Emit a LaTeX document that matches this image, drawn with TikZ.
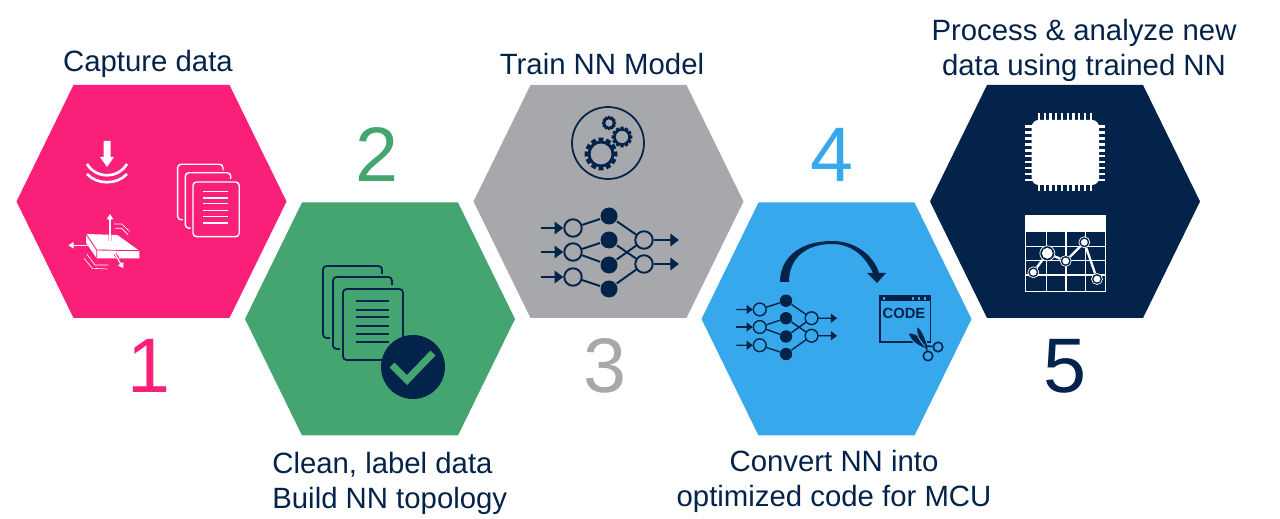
\documentclass[tikz,border=0pt]{standalone}
\usepackage{fontspec}
\setmainfont{Liberation Sans}
\usetikzlibrary{arrows.meta}
\definecolor{hexpink}{HTML}{FA1F79}
\definecolor{hexgreen}{HTML}{45A570}
\definecolor{hexgray}{HTML}{A7A8AC}
\definecolor{hexblue}{HTML}{38A8EC}
\definecolor{navy}{HTML}{03234B}
\tikzset{
	hexa/.pic={
		\fill (-135,0) -- (-78,-116.5) -- (78,-116.5) -- (135,0) -- (78,116.5) -- (-78,116.5) -- cycle;
	},
	caption/.style={text=navy,font=\fontsize{16.7}{20}\selectfont,align=center,inner sep=0pt},
	numeral/.style={font=\fontsize{44}{44}\selectfont,inner sep=0pt},
	netopen/.style={circle,draw,transform shape,minimum size=.35cm,inner sep=0pt},
	netfull/.style={circle,fill,transform shape,minimum size=.34cm,inner sep=0pt},
	chartpt/.style={circle,draw=white,fill=navy,line width=.4pt,inner sep=0pt},
	nnet/.pic={
		\foreach \n/\y in {1/-24,2/0,3/25}{
			\node[netopen] (o\n) at (-36,\y) {};
			\draw[-{Triangle[length=0pt 4.5,width=0pt 6.5]}] (-68,\y) -- (o\n);
		}
		\foreach \n/\y in {1/-36,2/-12,3/13,4/37}
			\node[netfull] (f\n) at (0,\y) {};
		\foreach \n/\y in {1/-12,2/12}{
			\node[netopen] (u\n) at (35,\y) {};
			\draw[-{Triangle[length=0pt 4.5,width=0pt 6.5]}] (u\n) -- (70,\y);
		}
		\foreach \a/\b in {o1/f1,o2/f2,o2/f3,o3/f4,f1/u1,f2/u2,f3/u1,f4/u2}
			\draw (\a) -- (\b);
	},
	docstack/.pic={
		\draw[rounded corners=2pt] (0,0) rectangle (60,71);
		\draw[rounded corners=2pt] (-3,60) -- (-10,60) -- (-10,-12) -- (49,-12) -- (49,-4);
		\draw[rounded corners=2pt] (-13,49) -- (-20,49) -- (-20,-23) -- (39,-23) -- (39,-15);
		\foreach \y in {12,21,28,37,45,53}
			\draw (13,\y) -- (46,\y);
	},
	gear/.pic={
		\draw (0,0) circle (12);
		\foreach \a in {0,30,...,330}
			\fill (\a-12:11) -- (\a-9:16.5) -- (\a+9:16.5) -- (\a+12:11) -- cycle;
	},
}
\begin{document}
\begin{tikzpicture}[x=.02cm,y=-.02cm]
	\useasboundingbox (0,0) rectangle (1280,519);

	\pic[hexpink] (H1) at (151.5,201.5) {hexa};
	\pic[hexgreen] (H2) at (380,319) {hexa};
	\pic[hexgray] (H3) at (608.5,201.5) {hexa};
	\pic[hexblue] (H4) at (836.5,319) {hexa};
	\pic[navy] (H5) at (1065,201.5) {hexa};

	\node[caption] (T1) at (148,64) {Capture data};
	\node[caption,align=left,anchor=west] (T2) at (272,483) {Clean, label data\\Build NN topology};
	\node[caption] (T3) at (602,64.5) {Train NN Model};
	\node[caption] (T4) at (834,481) {Convert NN into\\optimized code for MCU};
	\node[caption] (T5) at (1084,50) {Process \& analyze new\\data using trained NN};

	\node[numeral,text=hexpink] (N1) at (149,366) {1};
	\node[numeral,text=hexgreen] (N2) at (377,155) {2};
	\node[numeral,text=hexgray] (N3) at (605,366) {3};
	\node[numeral,text=hexblue] (N4) at (832,155) {4};
	\node[numeral,text=navy] (N5) at (1065,366) {5};

	% pink hexagon
	\fill[white] (103.5,141) -- (110.5,141) -- (110.5,157) -- (114,157) -- (107,167) -- (100,157) -- (103.5,157) -- cycle;
	\draw[white,line width=1.5pt] (87,164) .. controls (96,179) and (118,179) .. (127,164);
	\draw[white,line width=1.5pt] (87,174) .. controls (97,185) and (117,185) .. (127,174);
	\pic[white,line width=.8pt] (docA) at (193,182) [scale=.77] {docstack};
	\fill[white] (86,234) -- (117.3,235) -- (139.3,250.7) -- (139.3,258.3) -- (96.7,258.3) -- (86,242.7) -- cycle;
	\draw[hexpink,line width=.5pt] (86,234) -- (96.7,250) -- (139.3,250.7) (96.7,250) -- (96.7,258.3);
	\draw[hexpink,line width=1.6pt] (110,241) -- (110,225) (115,254) -- (118,258.3);
	\draw[white,line width=.8pt,-{Triangle[length=3pt,width=3.5pt]}] (110,241) -- (110,214);
	\draw[white,line width=.7pt,-{Triangle[length=3pt,width=3.5pt]}] (90,245.3) -- (68.3,245.3);
	\draw[white,line width=.7pt,-{Triangle[length=3pt,width=3.5pt]}] (115,254) -- (123.3,268.3);
	\draw[white,line width=.35pt] (114,224) -- (121.7,224) -- (130,231.7);
	\draw[white,line width=.35pt] (115,228.3) -- (121.7,228.3) -- (128.3,235);
	\draw[white,line width=.35pt] (84,258.3) -- (92.3,268.3) -- (107.3,269);
	\draw[white,line width=.35pt] (86.7,254) -- (95,265) -- (108.3,265);

	% green hexagon
	\pic[navy,line width=1pt] (docB) at (343,289) {docstack};
	\node[circle,fill=navy,minimum size=1.28cm,inner sep=0pt] (OK) at (413,367) {};
	\draw[hexgreen,line width=4pt] (392,365) -- (407,380) -- (433,353);

	% gray hexagon
	\node[circle,draw=navy,line width=1pt,minimum size=1.44cm,inner sep=0pt] (GB) at (608,143) {};
	\pic[navy,line width=1.6pt] (gearA) at (601,154) {gear};
	\pic[navy,line width=1.5pt] (gearB) at (622,137) [scale=.63] {gear};
	\pic[navy,line width=1.5pt] (gearC) at (609,123) [scale=.43] {gear};
	\pic[navy,line width=1.1pt] (netA) at (609,252) {nnet};

	% blue hexagon
	\pic[navy,line width=.8pt] (netB) at (786,327) [scale=.73] {nnet};
	\fill[navy] (780,282) .. controls (780,256) and (802,241) .. (832,241) .. controls (856,241) and (874,256) .. (879,273)
		-- (886,273) -- (877,283) -- (867,273) -- (873,273)
		.. controls (864,254) and (850,244) .. (832,244) .. controls (806,244) and (789,258) .. (789,282) -- cycle;
	\node[draw=navy,line width=.9pt,minimum width=1.01cm,minimum height=.92cm,inner sep=0pt] (WIN) at (905.3,319) {};
	\fill[navy] (880,296) rectangle (930.7,301);
	\foreach \x in {884,913,919,925}
		\fill[hexblue] (\x-1.2,297.5) rectangle (\x+1.2,299.7);
	\node[text=navy,font=\fontsize{8.4}{8}\bfseries\selectfont,inner sep=0pt] (CODE) at (904,313.5) {CODE};
	\fill[navy,draw=hexblue,line width=.6pt] (908,333) .. controls (918,332) and (924,340) .. (929,350) .. controls (920,347) and (911,343) .. (908,333) -- cycle;
	\fill[navy,draw=hexblue,line width=.6pt] (917,326) .. controls (923,330) and (926,340) .. (929,350) .. controls (922,344) and (915,336) .. (917,326) -- cycle;
	\node[circle,draw=navy,line width=.9pt,minimum size=.19cm,inner sep=0pt] (SA) at (938,347) {};
	\node[circle,draw=navy,line width=.9pt,minimum size=.19cm,inner sep=0pt] (SB) at (928,356) {};
	\coordinate (PV) at (926,346);
	\draw[navy,line width=.9pt] (PV) -- (SA) (PV) -- (SB);

	% dark hexagon
	\foreach \i in {0,...,9}{
		\draw[white,line width=1.4pt] (1039+5.75*\i,113.3) -- (1039+5.75*\i,190.7);
		\draw[white,line width=1.4pt] (1025,126.7+5.9*\i) -- (1105,126.7+5.9*\i);
	}
	\fill[white,rounded corners=4pt] (1031.7,120) rectangle (1099,185);
	\fill[white] (1025,216) rectangle (1106,232.3);
	\draw[white,line width=.8pt] (1025.5,216) rectangle (1105.5,291.5);
	\foreach \x in {1046.7,1066,1085.7}
		\draw[white,line width=.6pt] (\x,232) -- (\x,291);
	\foreach \y in {246.7,260.7,275}
		\draw[white,line width=.6pt] (1026,\y) -- (1105,\y);
	\node[chartpt,minimum size=.22cm] (P1) at (1033.3,272.3) {};
	\node[chartpt,minimum size=.3cm] (P2) at (1047.3,253.3) {};
	\node[chartpt,minimum size=.22cm] (P3) at (1065.7,261) {};
	\node[chartpt,minimum size=.22cm] (P4) at (1084.3,242.3) {};
	\node[chartpt,minimum size=.22cm] (P5) at (1097,279) {};
	\foreach \a/\b in {P1/P2,P2/P3,P3/P4,P4/P5}
		\draw[white,line width=1.3pt] (\a) -- (\b);
	\foreach \p in {P1,P3,P4,P5}
		\fill[white] (\p) circle (3.4);
	\fill[white] (P2) circle (5.4);
\end{tikzpicture}
\end{document}
